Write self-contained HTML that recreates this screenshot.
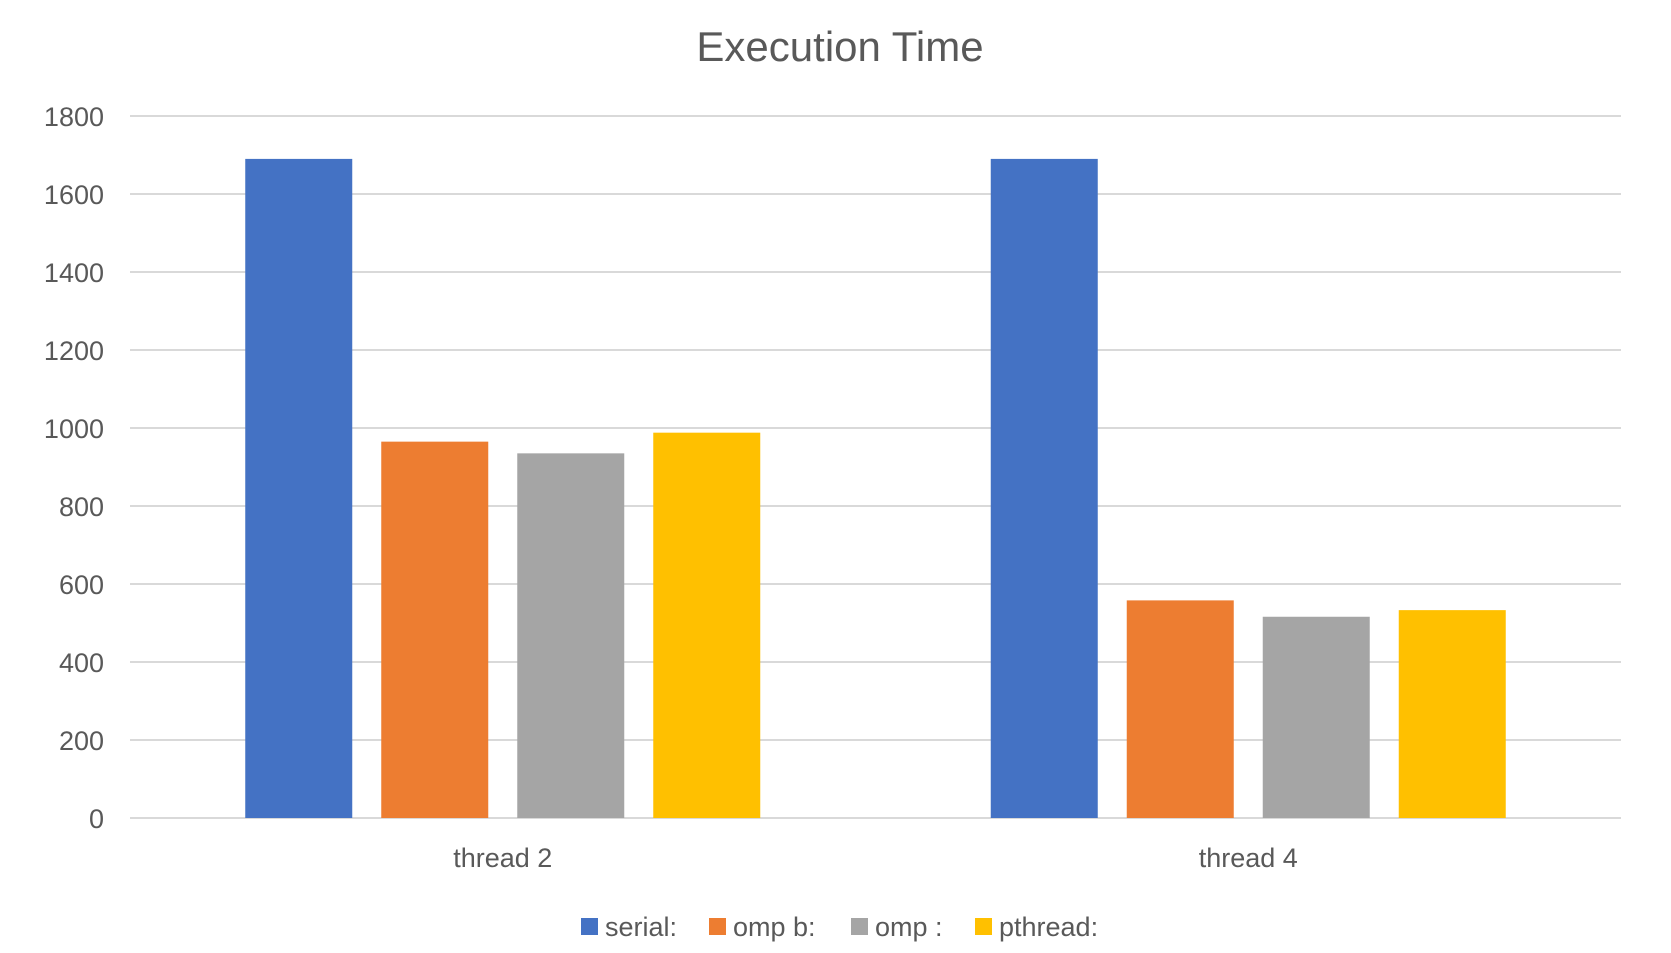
<!DOCTYPE html>
<html><head><meta charset="utf-8"><style>
body{margin:0;background:#fff;}
svg text{font-family:"Liberation Sans",sans-serif;fill:#595959;}
</style></head><body>
<svg id="chart" width="1671" height="948" xmlns="http://www.w3.org/2000/svg">
<text x="840" y="61" font-size="42" text-anchor="middle">Execution Time</text>
<g id="grid"></g><g id="bars"></g><g id="xlabels"></g>
<g id="legend"></g>
</svg>
<script>
const categories=["thread 2","thread 4"];
const seriesNames=["serial:","omp b:","omp :","pthread:"];
const seriesColors=["#4472C4","#ED7D31","#A5A5A5","#FFC000"];
const serial=[1690,1690];
const ompB=[965,558];
const omp=[935,516];
const pthread=[988,533];
const yTicks=[0,200,400,600,800,1000,1200,1400,1600,1800];
const series=[serial,ompB,omp,pthread];
const NS="http://www.w3.org/2000/svg";
const x0=130,x1=1621,yTop=116,yBot=818,yMax=1800;
function y(v){return yBot-(v/yMax)*(yBot-yTop);}
const catW=(x1-x0)/categories.length, barW=107, step=136;
function mk(t,a,p){const e=document.createElementNS(NS,t);for(const k in a)e.setAttribute(k,a[k]);p.appendChild(e);return e;}
const grid=document.getElementById('grid');
yTicks.forEach(t=>{
 const l=mk('line',{x1:x0,x2:x1,y1:y(t),y2:y(t),stroke:'#d9d9d9','stroke-width':2},grid);
 
 
 const tx=mk('text',{x:104,y:y(t)+10,'font-size':27,'text-anchor':'end'},grid);
 tx.textContent=t;
 
 
});
const bars=document.getElementById('bars'),xl=document.getElementById('xlabels');
categories.forEach((c,i)=>{
 const cx=x0+catW*(i+0.5);
 const start=cx-(step*3+barW)/2;
 series.forEach((s,j)=>{
  const r=mk('rect',{x:start+j*step,y:y(s[i]),width:barW,height:yBot-y(s[i]),fill:seriesColors[j]},bars);
  
  
 });
 const t=mk('text',{x:cx,y:867,'font-size':27,'text-anchor':'middle'},xl);
 t.textContent=c;
 
 
});
const lg=document.getElementById('legend');
const lx=[581,709,851,975];
seriesNames.forEach((n,j)=>{
 const r=mk('rect',{x:lx[j],y:918,width:17,height:17,fill:seriesColors[j]},lg);
 
 
 const t=mk('text',{x:lx[j]+24,y:936,'font-size':27},lg);
 t.textContent=n;
 
 
});
</script>
</body></html>
